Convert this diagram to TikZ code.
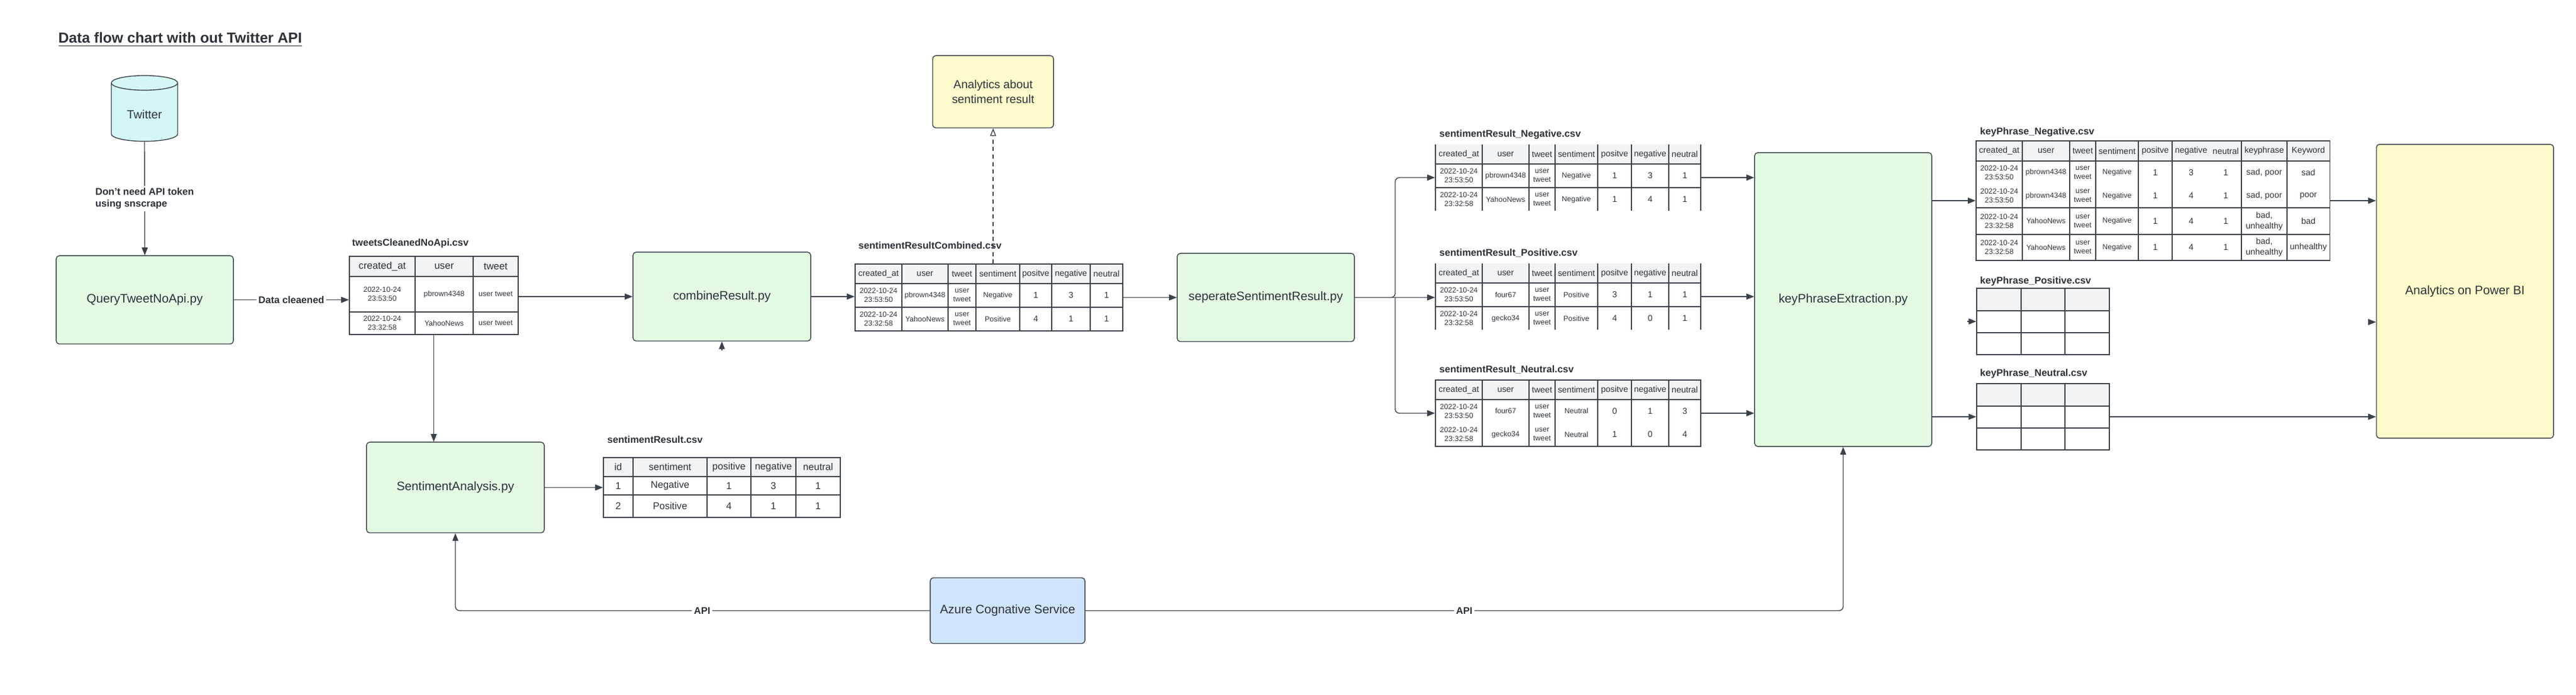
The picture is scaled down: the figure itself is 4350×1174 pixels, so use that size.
\documentclass[tikz,border=0pt]{standalone}
\usepackage{fontspec}
\setmainfont{Liberation Sans}
\usetikzlibrary{arrows.meta,shapes.geometric}

\definecolor{linecol}{HTML}{3A414A}
\definecolor{textcol}{HTML}{2C323A}
\definecolor{greenfill}{HTML}{E3FAE3}
\definecolor{yellowfill}{HTML}{FDFBCB}
\definecolor{bluefill}{HTML}{CFE4FF}
\definecolor{cyanfill}{HTML}{D4F7F3}
\definecolor{headfill}{HTML}{F2F3F5}

\begin{document}
\begin{tikzpicture}[x=0.01cm, y=-0.01cm, line width=0.4pt,
    flowbox/.style={draw=linecol, rounded corners=1.5pt, text=textcol, align=center, font=\fontsize{5.9}{7.2}\selectfont},
    procbox/.style={flowbox, fill=greenfill},
    flow/.style={draw=linecol, -{Triangle[length=0.13cm, width=0.1cm]}},
    flowlabel/.style={fill=white, text=textcol, inner sep=1pt, font=\bfseries\fontsize{4.7}{5.9}\selectfont},
    csvtitle/.style={anchor=west, inner sep=0, text=textcol, font=\bfseries\fontsize{4.7}{5.6}\selectfont},
    tabframe/.style={inner sep=0, draw=linecol},
    tabline/.style={draw=linecol},
    headcell/.style={inner sep=0, text=textcol, font=\fontsize{4.1}{5}\selectfont},
    midcell/.style={inner sep=0, text=textcol, font=\fontsize{4.7}{5.6}\selectfont},
    bigcell/.style={inner sep=0, align=center, text=textcol, font=\fontsize{4.1}{5}\selectfont},
    smallcell/.style={inner sep=0, align=center, text=textcol, font=\fontsize{3.55}{4.3}\selectfont}]

\useasboundingbox (0,0) rectangle (4350,1174);

\node[anchor=west, inner sep=0, text=textcol, font=\bfseries\fontsize{7}{8.4}\selectfont] (title) at (98,67) {\underline{Data flow chart with out Twitter API}};

% sources and scripts
\node[cylinder, shape border rotate=90, aspect=0.3, draw=linecol, fill=cyanfill, text=textcol, font=\fontsize{5.7}{7}\selectfont, minimum width=1.12cm, minimum height=1.11cm] (twitter) at (244,193.5) {Twitter};
\node[procbox, minimum width=2.99cm, minimum height=1.49cm] (query) at (244.5,506.5) {QueryTweetNoApi.py};
\node[procbox, minimum width=3cm, minimum height=1.5cm] (combine) at (1219,501) {combineResult.py};
\node[procbox, minimum width=3cm, minimum height=1.53cm] (sa) at (769,823.5) {SentimentAnalysis.py};
\node[procbox, minimum width=2.99cm, minimum height=1.49cm] (sep) at (2137.5,502.5) {seperateSentimentResult.py};
\node[procbox, minimum width=2.99cm, minimum height=4.96cm] (keyext) at (3112.5,506) {keyPhraseExtraction.py};
\node[flowbox, fill=yellowfill, font=\fontsize{5.6}{7.1}\selectfont, minimum width=2.04cm, minimum height=1.22cm] (analytics) at (1677,155) {Analytics about\\sentiment result};
\node[flowbox, fill=yellowfill, minimum width=2.99cm, minimum height=4.96cm] (pbi) at (4162.5,492) {Analytics on Power BI};
\node[flowbox, fill=bluefill, minimum width=2.61cm, minimum height=1.11cm] (azure) at (1701.5,1031.5) {Azure Cognative Service};

% tweetsCleanedNoApi.csv
\node[csvtitle] (cleantitle) at (594,411) {tweetsCleanedNoApi.csv};
\fill[headfill] (590,433) rectangle (875,467);
\foreach \x in {701,799}
    \draw[tabline] (\x,433) -- (\x,565);
\foreach \y in {467,527}
    \draw[tabline] (590,\y) -- (875,\y);
\node[tabframe, minimum width=2.85cm, minimum height=1.32cm] (clean) at (732.5,499) {};
\foreach \x/\lab [count=\i] in {645.5/created\_at, 750/user, 837/tweet}
    \node[headcell, font=\fontsize{4.8}{5.8}\selectfont] (clean-h\i) at (\x,450) {\lab};
\foreach \y/\tm/\usr [count=\r] in {497/23:53:50/pbrown4348, 546/23:32:58/YahooNews} {
    \node[smallcell] (clean-\r-1) at (645.5,\y) {2022-10-24\\\tm};
    \node[smallcell] (clean-\r-2) at (750,\y) {\usr};
    \node[smallcell] (clean-\r-3) at (837,\y) {user tweet};
}

% sentimentResult.csv
\node[csvtitle] (resulttitle) at (1025,743) {sentimentResult.csv};
\fill[headfill] (1019,773) rectangle (1419,805);
\foreach \x in {1069,1194,1268,1344}
    \draw[tabline] (\x,773) -- (\x,874);
\foreach \y in {805,836}
    \draw[tabline] (1019,\y) -- (1419,\y);
\node[tabframe, minimum width=4cm, minimum height=1.01cm] (result) at (1219,823.5) {};
\foreach \x/\lab/\va/\vb [count=\i] in {1044/id/1/2, 1131.5/sentiment/Negative/Positive, 1231/positive/1/4, 1306/negative/3/1, 1381.5/neutral/1/1} {
    \node[midcell] (result-h\i) at (\x,789) {\lab};
    \node[midcell] (result-1-\i) at (\x,820.5) {\va};
    \node[midcell] (result-2-\i) at (\x,855) {\vb};
}

% sentimentResultCombined.csv
\node[csvtitle] (combtitle) at (1449,415) {sentimentResultCombined.csv};
\fill[headfill] (1444,446) rectangle (1896,479);
\foreach \x in {1523,1601,1648,1722,1776,1841}
    \draw[tabline] (\x,446) -- (\x,559);
\foreach \y in {479,519}
    \draw[tabline] (1444,\y) -- (1896,\y);
\node[tabframe, minimum width=4.52cm, minimum height=1.13cm] (comb) at (1670,502.5) {};
\foreach \x/\lab [count=\i] in {1483.5/created\_at, 1562/user, 1624.5/tweet, 1685/sentiment, 1749/positve, 1808.5/negative, 1868.5/neutral}
    \node[headcell] (comb-h\i) at (\x,462.5) {\lab};
\foreach \y/\tm/\usr/\snt/\va/\vb/\vc [count=\r] in {499/23:53:50/pbrown4348/Negative/1/3/1, 539/23:32:58/YahooNews/Positive/4/1/1} {
    \node[smallcell] (comb-\r-1) at (1483.5,\y) {2022-10-24\\\tm};
    \node[smallcell] (comb-\r-2) at (1562,\y) {\usr};
    \node[smallcell] (comb-\r-3) at (1624.5,\y) {user\\tweet};
    \node[smallcell] (comb-\r-4) at (1685,\y) {\snt};
    \node[bigcell] (comb-\r-5) at (1749,\y) {\va};
    \node[bigcell] (comb-\r-6) at (1808.5,\y) {\vb};
    \node[bigcell] (comb-\r-7) at (1868.5,\y) {\vc};
}

% sentimentResult_*.csv
\foreach \ty/\name/\frame in {244/Negative/none, 445/Positive/none, 642/Neutral/linecol} {
    \node[csvtitle] (srtitle\name) at (2430,\ty-17) {sentimentResult\_\name.csv};
    \fill[headfill] (2424,\ty) rectangle (2872,\ty+33);
    \foreach \x in {2424,2503,2582,2626,2698,2755,2818,2872}
        \draw[tabline] (\x,\ty) -- (\x,\ty+112);
    \draw[tabline] (2424,\ty+33) -- (2872,\ty+33);
    \node[tabframe, draw=\frame, minimum width=4.48cm, minimum height=1.12cm] (sr\name) at (2648,\ty+56) {};
    \foreach \x/\lab [count=\i] in {2463.5/created\_at, 2542.5/user, 2604/tweet, 2662/sentiment, 2726.5/positve, 2786.5/negative, 2845/neutral}
        \node[headcell] (sr\name-h\i) at (\x,\ty+16.5) {\lab};
}
\foreach \y in {317,518}
    \draw[tabline] (2424,\y) -- (2872,\y);
\foreach \y/\tm/\usr/\snt/\va/\vb/\vc [count=\r] in {
    297/23:53:50/pbrown4348/Negative/1/3/1, 337/23:32:58/YahooNews/Negative/1/4/1,
    498/23:53:50/four67/Positive/3/1/1, 538/23:32:58/gecko34/Positive/4/0/1,
    694.5/23:53:50/four67/Neutral/0/1/3, 734/23:32:58/gecko34/Neutral/1/0/4} {
    \node[smallcell] (sr-\r-1) at (2463.5,\y) {2022-10-24\\\tm};
    \node[smallcell] (sr-\r-2) at (2542.5,\y) {\usr};
    \node[smallcell] (sr-\r-3) at (2604,\y) {user\\tweet};
    \node[smallcell] (sr-\r-4) at (2662,\y) {\snt};
    \node[bigcell] (sr-\r-5) at (2726.5,\y) {\va};
    \node[bigcell] (sr-\r-6) at (2786.5,\y) {\vb};
    \node[bigcell] (sr-\r-7) at (2845,\y) {\vc};
}

% keyPhrase_Negative.csv
\node[csvtitle] (kntitle) at (3343,223) {keyPhrase\_Negative.csv};
\fill[headfill] (3337,238) rectangle (3934,272);
\foreach \x in {3415,3495,3539,3611,3668,3785,3862}
    \draw[tabline] (\x,238) -- (\x,440);
\foreach \y in {272,351,396}
    \draw[tabline] (3337,\y) -- (3934,\y);
\node[tabframe, minimum width=5.97cm, minimum height=2.02cm] (kntab) at (3635.5,339) {};
\foreach \x/\lab [count=\i] in {3376/created\_at, 3455/user, 3517/tweet, 3575/sentiment, 3639.5/positve, 3700/negative, 3758.5/neutral, 3823.5/keyphrase, 3898/Keyword}
    \node[headcell] (kn-h\i) at (\x,255) {\lab};
\foreach \y/\tm/\usr/\vb/\kp/\kw [count=\r] in {
    291.5/23:53:50/pbrown4348/3/{sad, poor}/sad, 331/23:53:50/pbrown4348/4/{sad, poor}/poor,
    373.5/23:32:58/YahooNews/4/{bad,\\unhealthy}/bad, 418/23:32:58/YahooNews/4/{bad,\\unhealthy}/unhealthy} {
    \node[smallcell] (kn-\r-1) at (3376,\y) {2022-10-24\\\tm};
    \node[smallcell] (kn-\r-2) at (3455,\y) {\usr};
    \node[smallcell] (kn-\r-3) at (3517,\y) {user\\tweet};
    \node[smallcell] (kn-\r-4) at (3575,\y) {Negative};
    \node[bigcell] (kn-\r-5) at (3639.5,\y) {1};
    \node[bigcell] (kn-\r-6) at (3700,\y) {\vb};
    \node[bigcell] (kn-\r-7) at (3758.5,\y) {1};
    \node[bigcell] (kn-\r-8) at (3823.5,\y) {\kp};
    \node[bigcell] (kn-\r-9) at (3898,\y) {\kw};
}

% keyPhrase_Positive.csv, keyPhrase_Neutral.csv
\foreach \ty/\tty/\name in {487/475/Positive, 648/631/Neutral} {
    \node[csvtitle] (kt\name) at (3343,\tty) {keyPhrase\_\name.csv};
    \fill[headfill] (3338,\ty) rectangle (3562,\ty+38);
    \foreach \x in {3413,3487}
        \draw[tabline] (\x,\ty) -- (\x,\ty+112);
    \foreach \y in {38,75}
        \draw[tabline] (3338,\ty+\y) -- (3562,\ty+\y);
    \node[tabframe, minimum width=2.24cm, minimum height=1.12cm] (key\name) at (3450,\ty+56) {};
}

% connectors
\coordinate (fork) at (2356,502.5);
\coordinate (cbstub) at (1219,592);
\coordinate (kpstub) at (3322,543);
\coordinate (pbstub) at (3999,544);

\draw[flow] (twitter.south) -- node[flowlabel, align=left] {Don't need API token\\using snscrape} (query.north);
\draw[flow] (query.east) -- node[flowlabel] {Data cleaened} (query.east -| clean.west);
\draw[flow] (clean.east |- combine.west) -- (combine.west);
\draw[flow] (cbstub) -- (combine.south);
\draw[flow] (combine.east) -- (combine.east -| comb.west);
\draw[flow, dash pattern=on 2pt off 1.6pt, -{Triangle[open, length=0.13cm, width=0.1cm]}] (analytics.south |- comb.north) -- (analytics.south);
\draw[flow] (comb.east |- sep.west) -- (sep.west);
\draw[flow, rounded corners=2pt] (sep.east) -- (fork) |- (srNegative.west);
\draw[flow] (sep.east) -- (sep.east -| srPositive.west);
\draw[flow, rounded corners=2pt] (fork) |- (srNeutral.west);
\draw[flow] (srNegative.east) -- (srNegative.east -| keyext.west);
\draw[flow] (srPositive.east) -- (srPositive.east -| keyext.west);
\draw[flow] (srNeutral.east) -- (srNeutral.east -| keyext.west);

\draw[flow] (clean.south) -- (clean.south |- sa.north);
\draw[flow] (sa.east) -- (sa.east -| result.west);
\draw[flow, rounded corners=2pt] (azure.west) -| node[flowlabel, pos=0.24] {API} (sa.south);
\draw[flow, rounded corners=2pt] (azure.east) -| node[flowlabel, pos=0.25] {API} (keyext.south);

\draw[flow] (keyext.east |- kntab.west) -- (kntab.west);
\draw[flow] (kpstub) -- (kpstub -| keyPositive.west);
\draw[flow] (keyext.east |- keyNeutral.west) -- (keyNeutral.west);
\draw[flow] (kntab.east) -- (kntab.east -| pbi.west);
\draw[flow] (pbstub) -- (pbstub -| pbi.west);
\draw[flow] (keyNeutral.east) -- (keyNeutral.east -| pbi.west);

\end{tikzpicture}
\end{document}
